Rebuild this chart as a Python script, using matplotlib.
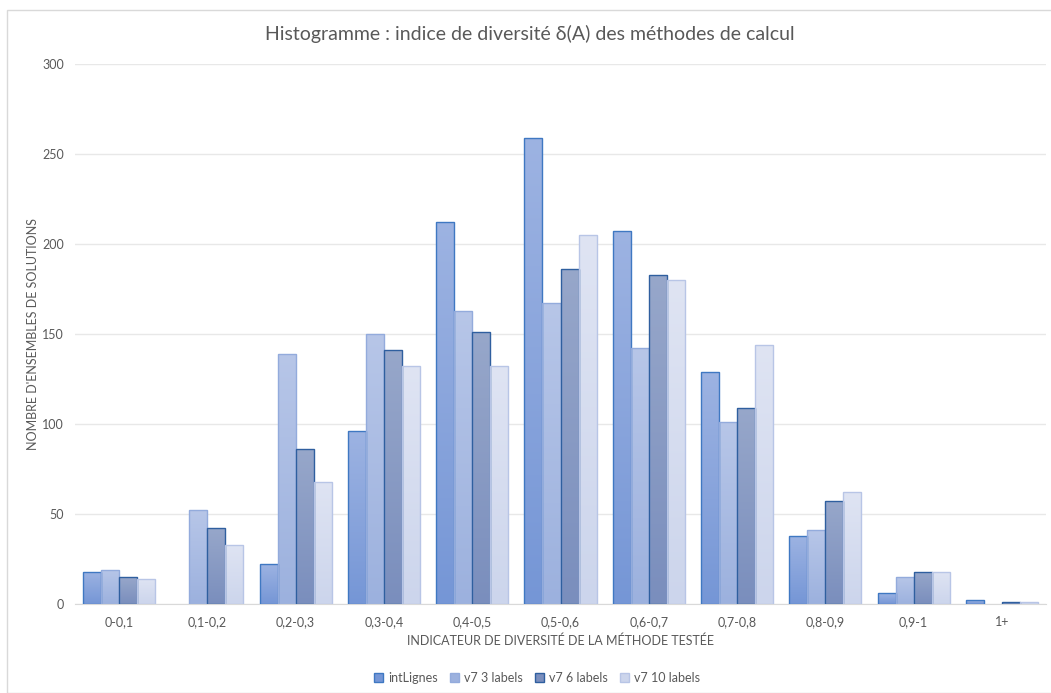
import numpy as np
import matplotlib
matplotlib.use('Agg')
import matplotlib.pyplot as plt
from matplotlib.colors import LinearSegmentedColormap
from matplotlib.patches import Rectangle

plt.rcParams['font.family'] = ['Lato', 'DejaVu Sans']

categories = ['0-0,1', '0,1-0,2', '0,2-0,3', '0,3-0,4', '0,4-0,5', '0,5-0,6',
              '0,6-0,7', '0,7-0,8', '0,8-0,9', '0,9-1', '1+']
series_names = ['intLignes', 'v7 3 labels', 'v7 6 labels', 'v7 10 labels']
int_lignes = [18, 0, 22, 96, 212, 259, 207, 129, 38, 6, 2]
v7_3 = [19, 52, 139, 150, 163, 167, 142, 101, 41, 15, 0]
v7_6 = [15, 42, 86, 141, 151, 186, 183, 109, 57, 18, 1]
v7_10 = [14, 33, 68, 132, 132, 205, 180, 144, 62, 18, 1]

# (top colour, bottom colour, edge colour) for each series
styles = [
    ('#9db3e2', '#7596d6', '#3f78c2'),
    ('#b7c6e8', '#9cb1de', '#93abdc'),
    ('#97a7ca', '#7a8ebd', '#2f5f9f'),
    ('#dfe4f3', '#ccd5ec', '#b8c5e6'),
]

grey = '#595959'
fig = plt.figure(figsize=(10.51, 6.93), dpi=100)
ax = fig.add_axes([75 / 1051, 89 / 693, 971 / 1051, 540 / 693])

x = np.arange(len(categories))
w = 0.204
grad = np.linspace(1, 0, 256).reshape(-1, 1)
for k, (vals, (c_top, c_bot, c_edge)) in enumerate(zip([int_lignes, v7_3, v7_6, v7_10], styles)):
    cmap = LinearSegmentedColormap.from_list('g%d' % k, [c_bot, c_top])
    xs = x + (k - 1.5) * w
    edges = [c_edge if v > 0 else 'none' for v in vals]
    bars = ax.bar(xs, vals, width=w, facecolor='none', edgecolor=edges, linewidth=1.0, zorder=3)
    for b, v in zip(bars, vals):
        if v <= 0:
            continue
        x0 = b.get_x()
        im = ax.imshow(grad, extent=(x0, x0 + w, 0, v), cmap=cmap, aspect='auto',
                       origin='upper', zorder=2, vmin=0, vmax=1)
        im.set_clip_path(b)
    # legend handle
    ax.bar([0], [0], width=0, facecolor=c_bot, edgecolor=c_edge, label=series_names[k])

ax.set_xlim(-0.5, len(categories) - 0.5)
ax.set_ylim(0, 300)
ax.set_yticks(range(0, 301, 50))
ax.set_xticks(x)
ax.set_xticklabels(categories)
ax.yaxis.grid(True, color='#e8e8e8', linewidth=1.0, zorder=0)
ax.set_axisbelow(True)
for s in ['top', 'right', 'left']:
    ax.spines[s].set_visible(False)
ax.spines['bottom'].set_color('#d9d9d9')
ax.tick_params(axis='both', length=0, labelsize=9, labelcolor=grey)
ax.tick_params(axis='x', pad=9)
ax.tick_params(axis='y', pad=8)

ax.set_xlabel('INDICATEUR DE DIVERSITÉ DE LA MÉTHODE TESTÉE', fontsize=9, color=grey, labelpad=4)
ax.set_ylabel("NOMBRE D'ENSEMBLES DE SOLUTIONS", fontsize=9, color=grey, labelpad=2)

fig.text(530 / 1051, 1 - 34 / 693, 'Histogramme : indice de diversité δ(A) des méthodes de calcul',
         ha='center', va='center', fontsize=14, color=grey)

leg = fig.legend(loc='center', bbox_to_anchor=(537 / 1051, 1 - 678 / 693), ncol=4, frameon=False,
                 fontsize=9, handlelength=0.7, handleheight=0.7, columnspacing=1.0, handletextpad=0.4)
for t in leg.get_texts():
    t.set_color(grey)

# chart border
fig.patches.append(Rectangle((7 / 1051, 0), 1.1, 1 - 10 / 693, transform=fig.transFigure,
                             fill=False, edgecolor='#d9d9d9', linewidth=1.0))

fig.savefig('out.png', dpi=100)
